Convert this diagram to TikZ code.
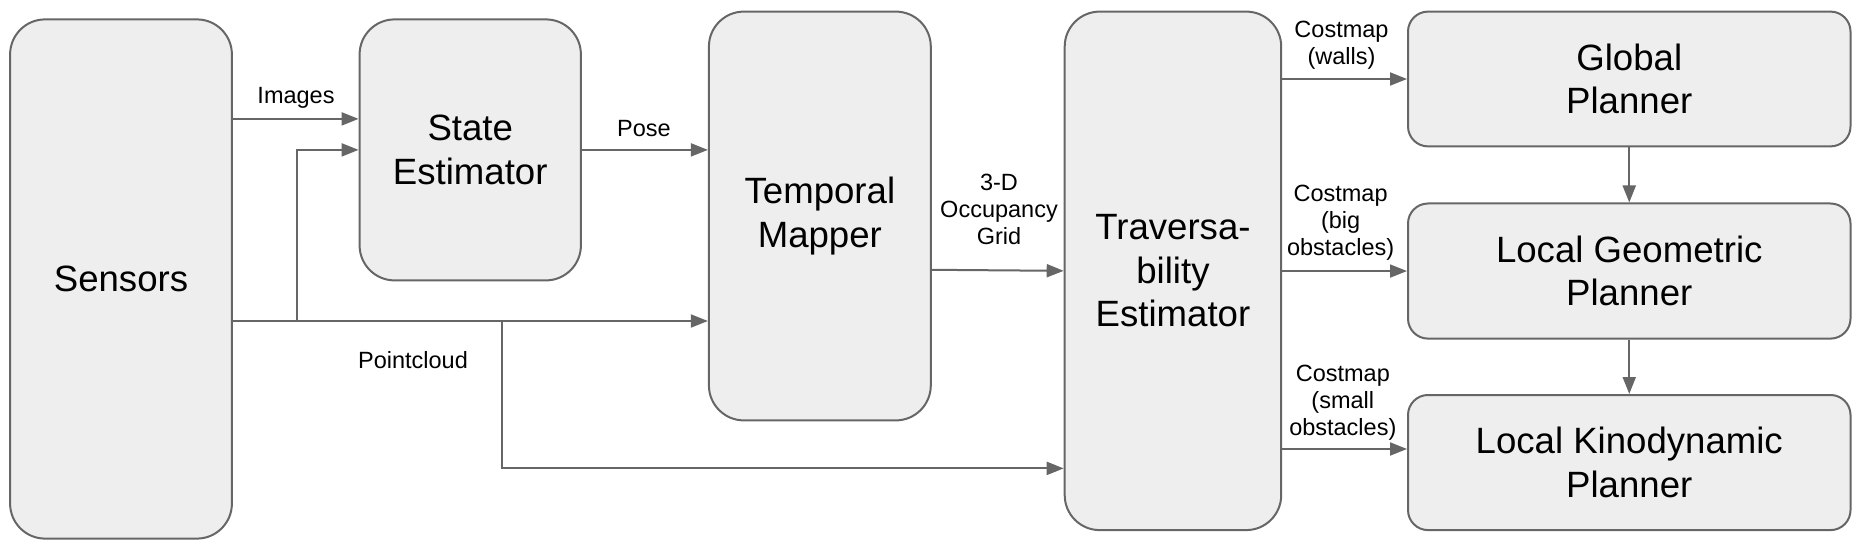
\documentclass[tikz,border=0pt]{standalone}
\usepackage{fontspec}
\setmainfont{Liberation Sans}
\usetikzlibrary{arrows.meta}
\definecolor{lc}{HTML}{666666}
\definecolor{bf}{HTML}{EEEEEE}
\begin{document}
\begin{tikzpicture}[x=1pt,y=-1pt,
 box/.style={draw=lc, fill=bf, line width=2pt, rounded corners=35pt, inner sep=0pt, align=center, font=\fontsize{36.6}{43.4}\selectfont},
 pbox/.style={box, rounded corners=20pt},
 arr/.style={draw=lc, line width=2pt, -{Triangle[length=17pt,width=13pt]}},
 lbl/.style={align=center, inner sep=0pt, font=\fontsize{23.5}{27}\selectfont}]
\useasboundingbox (0,0) rectangle (1863,553);
\node[box, minimum width=221.8pt, minimum height=519.2pt] (sens) at (121,279) {Sensors};
\node[box, minimum width=221.3pt, minimum height=261pt] (se) at (470.25,149.9) {State\\Estimator};
\node[box, minimum width=221.9pt, minimum height=408.8pt] (tm) at (819.85,216) {Temporal\\Mapper};
\node[box, minimum width=216.5pt, minimum height=518.5pt] (tr) at (1172.95,270.85) {Traversa-\\bility\\Estimator};
\node[pbox, minimum width=442.5pt, minimum height=134.8pt] (gp) at (1629.25,79) {Global\\Planner};
\node[pbox, minimum width=442.5pt, minimum height=135.1pt] (lg) at (1629.25,271.05) {Local Geometric\\Planner};
\node[pbox, minimum width=442.5pt, minimum height=135.1pt] (lk) at (1629.25,462.55) {Local Kinodynamic\\Planner};

\coordinate (j1) at (297,321);
\coordinate (j2) at (502,321);

\draw[arr] (sens.east |- 0,118.9) -- (se.west |- 0,118.9);
\draw[arr] (j1) |- (se.west);
\draw[arr] (sens.east |- 0,321) -- (tm.west |- 0,321);
\draw[arr] (j2) |- (tr.west |- 0,468.4);
\draw[arr] (se.east) -- (tm.west |- se.east);
\draw[arr] (tm.east |- 0,269.8) -- (tr.west);
\draw[arr] (tr.east |- gp.west) -- (gp.west);
\draw[arr] (tr.east |- lg.west) -- (lg.west);
\draw[arr] (tr.east |- 0,449) -- (lk.west |- 0,449);
\draw[arr] (gp.south) -- (lg.north);
\draw[arr] (lg.south) -- (lk.north);

\node[lbl] (limg) at (296,98) {Images};
\node[lbl] (lpose) at (644,129) {Pose};
\node[lbl] (lpc) at (413,360.5) {Pointcloud};
\node[lbl] (locc) at (999,209) {3-D\\Occupancy\\Grid};
\node[lbl] (lwall) at (1341.5,45.5) {Costmap\\(walls)};
\node[lbl] (lbig) at (1340.6,222.5) {Costmap\\(big\\obstacles)};
\node[lbl] (lsmall) at (1342.8,402.5) {Costmap\\(small\\obstacles)};
\end{tikzpicture}
\end{document}
